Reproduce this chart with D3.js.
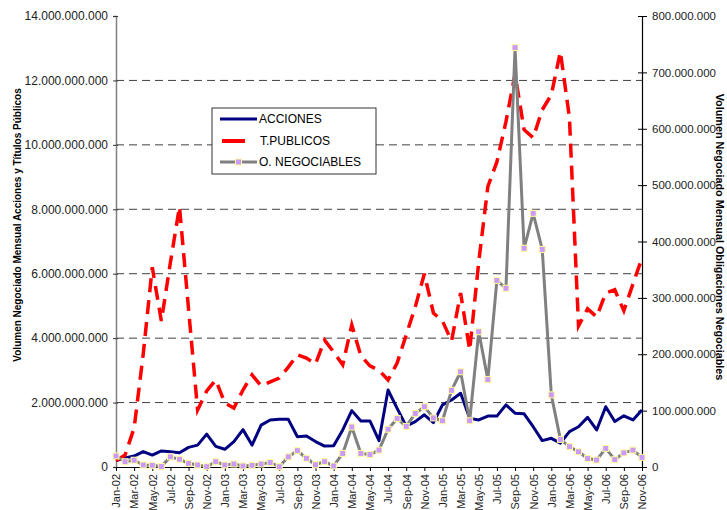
<!DOCTYPE html>
<html>
<head>
<meta charset="utf-8">
<script src="https://cdn.jsdelivr.net/npm/d3@7"></script>
<style>
  body { margin: 0; background: #fff; }
  svg { display: block; font-family: Arial, "Liberation Sans", sans-serif; }
</style>
</head>
<body>
<svg id="chart" width="727" height="510"></svg>
<script>
// months on the category axis
const months = [
  "Jan-02","Feb-02","Mar-02","Apr-02","May-02","Jun-02","Jul-02","Aug-02","Sep-02","Oct-02","Nov-02","Dec-02",
  "Jan-03","Feb-03","Mar-03","Apr-03","May-03","Jun-03","Jul-03","Aug-03","Sep-03","Oct-03","Nov-03","Dec-03",
  "Jan-04","Feb-04","Mar-04","Apr-04","May-04","Jun-04","Jul-04","Aug-04","Sep-04","Oct-04","Nov-04","Dec-04",
  "Jan-05","Feb-05","Mar-05","Apr-05","May-05","Jun-05","Jul-05","Aug-05","Sep-05","Oct-05","Nov-05","Dec-05",
  "Jan-06","Feb-06","Mar-06","Apr-06","May-06","Jun-06","Jul-06","Aug-06","Sep-06","Oct-06","Nov-06"
];

// ACCIONES, billions (left axis)
const acciones = [0.20,0.28,0.34,0.48,0.37,0.50,0.47,0.44,0.61,0.68,1.02,0.64,
  0.55,0.79,1.16,0.68,1.30,1.46,1.48,1.48,0.94,0.96,0.79,0.65,
  0.66,1.15,1.75,1.43,1.43,0.82,2.39,1.82,1.27,1.41,1.62,1.38,
  1.93,2.08,2.29,1.51,1.46,1.58,1.58,1.93,1.67,1.65,1.25,0.82,
  0.89,0.74,1.10,1.25,1.54,1.15,1.87,1.41,1.59,1.46,1.77];

// T.PUBLICOS, billions (left axis)
const publicos = [0.19,0.37,1.21,3.5,6.2,4.53,6.35,8.08,4.9,1.77,2.36,2.7,
  1.99,1.83,2.39,2.86,2.52,2.64,2.76,3.1,3.48,3.38,3.2,3.94,
  3.57,3.17,4.41,3.45,3.14,3.0,2.7,3.23,4.1,4.97,6.0,4.78,
  4.53,3.91,5.4,3.63,6.37,8.7,9.47,10.72,12.2,10.47,10.22,11.09,
  11.55,12.89,10.84,4.38,4.91,4.66,5.4,5.5,4.85,5.68,6.49];

// O. NEGOCIABLES, millions (right axis)
const negociables = [19.5,9.4,12,3.5,3,0.8,18,13.6,6.5,3.5,0.5,9.4,
  3.5,5.3,1.8,3,5.3,8,0.5,18,29,15.4,4,9.4,
  1.8,24,71,24,22,30,67,86,72,95,107,87,
  82,136,169,82,240,155,331,317,744,388,450,386,
  128,49,36,27,15,12.4,33,13,25,30,17];

const leftTicks = [0, 2e9, 4e9, 6e9, 8e9, 10e9, 12e9, 14e9];
const rightTicks = [0, 1e8, 2e8, 3e8, 4e8, 5e8, 6e8, 7e8, 8e8];

const svg = d3.select("#chart");
const x0 = 116, x1 = 642, yTop = 16, yBot = 467;

const x = d3.scalePoint().domain(months).range([x0, x1]);
const yL = d3.scaleLinear().domain([0, 14e9]).range([yBot, yTop]);
const yR = d3.scaleLinear().domain([0, 8e8]).range([yBot, yTop]);

const es = d3.formatLocale({decimal: ",", thousands: ".", grouping: [3], currency: ["", ""]});
const fmt = es.format(",.0f");

// grid lines
svg.append("g")
  .selectAll("line")
  .data(leftTicks.filter(d => d > 0 && d < 14e9))
  .join("line")
  .attr("x1", x0).attr("x2", x1)
  .attr("y1", d => yL(d)).attr("y2", d => yL(d))
  .attr("stroke", "#404040")
  .attr("stroke-width", 1)
  .attr("stroke-dasharray", "8,5");

// left axis
const gL = svg.append("g")
  .attr("transform", `translate(${x0},0)`)
  .call(d3.axisLeft(yL).tickValues(leftTicks).tickFormat(fmt).tickSize(3).tickPadding(5));
gL.select(".domain").attr("stroke", "#808080").attr("stroke-width", 1.5);
gL.selectAll(".tick line").attr("x2", -3).attr("x1", 2).attr("stroke", "#333");
gL.selectAll(".tick text").attr("font-size", 12).attr("fill", "#222")
  .attr("font-family", "Arial, 'Liberation Sans', sans-serif");

// right axis
const gR = svg.append("g")
  .attr("transform", `translate(${x1},0)`)
  .call(d3.axisRight(yR).tickValues(rightTicks).tickFormat(fmt).tickSize(5).tickPadding(5));
gR.select(".domain").attr("stroke", "#000").attr("stroke-width", 1.2);
gR.selectAll(".tick line").attr("x1", -4).attr("x2", 5).attr("stroke", "#000");
gR.selectAll(".tick text").attr("font-size", 11.5).attr("fill", "#222")
  .attr("font-family", "Arial, 'Liberation Sans', sans-serif");

// bottom axis
const gX = svg.append("g")
  .attr("transform", `translate(0,${yBot})`)
  .call(d3.axisBottom(x).tickValues(months.filter((d, i) => i % 2 === 0)).tickSize(4).tickSizeOuter(0));
gX.select(".domain").attr("stroke", "#000").attr("stroke-width", 1.2);
gX.selectAll(".tick line").attr("stroke", "#000");
gX.selectAll(".tick text")
  .attr("font-size", 11).attr("fill", "#222")
  .attr("font-family", "Arial, 'Liberation Sans', sans-serif")
  .attr("text-anchor", "end")
  .attr("transform", "rotate(-90)")
  .attr("x", -7).attr("y", 0).attr("dy", "0.35em");

// series
const lineL = d3.line().x((d, i) => x(months[i])).y(d => yL(d * 1e9));
const lineR = d3.line().x((d, i) => x(months[i])).y(d => yR(d * 1e6));

svg.append("path").datum(acciones)
  .attr("d", lineL).attr("fill", "none")
  .attr("stroke", "#000080").attr("stroke-width", 3).attr("stroke-linejoin", "round");

svg.append("path").datum(publicos)
  .attr("d", lineL).attr("fill", "none")
  .attr("stroke", "#ff0000").attr("stroke-width", 3.5)
  .attr("stroke-dasharray", "14,8");

svg.append("path").datum(negociables)
  .attr("d", lineR).attr("fill", "none")
  .attr("stroke", "#808080").attr("stroke-width", 3).attr("stroke-linejoin", "round");

svg.append("g").selectAll("rect")
  .data(negociables)
  .join("rect")
  .attr("x", (d, i) => x(months[i]) - 3)
  .attr("y", d => yR(d * 1e6) - 3)
  .attr("width", 6).attr("height", 6)
  .attr("fill", "#cc99ff").attr("stroke", "#ffff99").attr("stroke-width", 1);

// axis titles
svg.append("text")
  .attr("transform", "translate(21,225) rotate(-90)")
  .attr("text-anchor", "middle")
  .attr("font-size", 10).attr("font-weight", "bold")
  .text("Volumen Negociado Mensual Acciones y Títulos Públicos");

svg.append("text")
  .attr("transform", "translate(716,237) rotate(90)")
  .attr("text-anchor", "middle")
  .attr("font-size", 10.8).attr("font-weight", "bold")
  .text("Volumen Negociado Mensual Obligaciones Negociables");

// legend
const legend = svg.append("g");
legend.append("rect")
  .attr("x", 212).attr("y", 108).attr("width", 164).attr("height", 66)
  .attr("fill", "#fff").attr("stroke", "#333").attr("stroke-width", 1);

const items = [
  {name: "ACCIONES", color: "#000080", w: 3, dash: null, y: 119},
  {name: "T.PUBLICOS", color: "#ff0000", w: 4, dash: "23,40", y: 141},
  {name: "O. NEGOCIABLES", color: "#808080", w: 3, dash: null, y: 162}
];
items.forEach(it => {
  legend.append("line")
    .attr("x1", it.dash ? 222 : 220).attr("x2", 257)
    .attr("y1", it.y).attr("y2", it.y)
    .attr("stroke", it.color).attr("stroke-width", it.w)
    .attr("stroke-dasharray", it.dash);
  legend.append("text")
    .attr("x", it.name === "T.PUBLICOS" ? 260 : 259).attr("y", it.y)
    .attr("dy", "0.36em").attr("font-size", 12).attr("fill", "#000")
    .text(it.name);
});
legend.append("rect")
  .attr("x", 235.5).attr("y", 159).attr("width", 6).attr("height", 6)
  .attr("fill", "#cc99ff").attr("stroke", "#ffff99").attr("stroke-width", 1);
</script>
</body>
</html>
